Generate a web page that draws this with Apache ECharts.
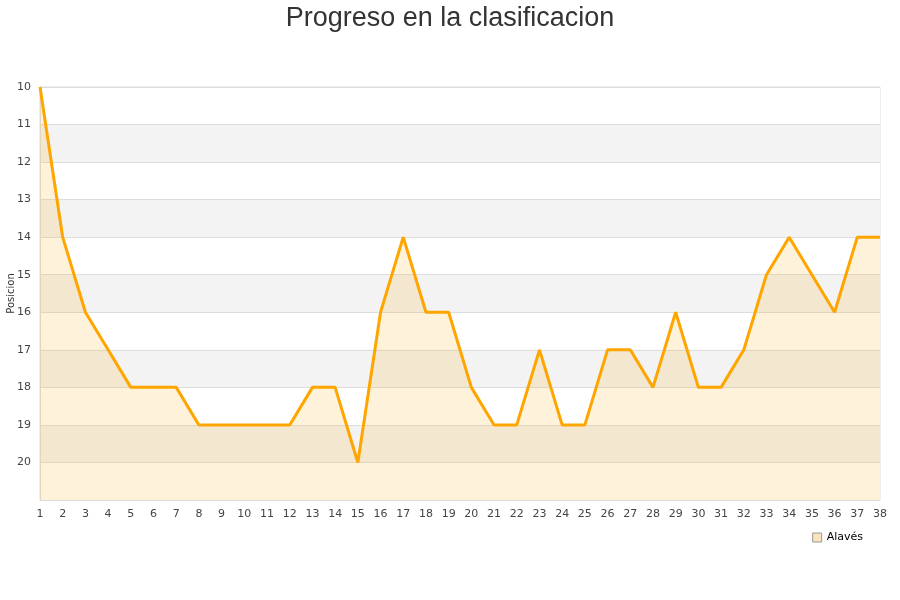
<!DOCTYPE html>
<html><head><meta charset="utf-8">
<script src="https://cdn.jsdelivr.net/npm/echarts@6/dist/echarts.min.js"></script>
<style>html,body{margin:0;padding:0;background:#fff}#c{width:900px;height:600px}</style>
</head><body><div id="c"></div>
<script>
const jornadas = ['1','2','3','4','5','6','7','8','9','10','11','12','13','14','15','16','17','18','19','20','21','22','23','24','25','26','27','28','29','30','31','32','33','34','35','36','37','38'];
const posiciones = [10,14,16,17,18,18,18,19,19,19,19,19,18,18,20,16,14,16,16,18,19,19,17,19,19,17,17,18,16,18,18,17,15,14,15,16,14,14];
const teamName = 'Alavés';
const chart = echarts.init(document.getElementById('c'));
chart.setOption({
  animation:false,
  title:{text:'Progreso en la clasificacion',left:'center',top:0,textStyle:{fontFamily:'Liberation Sans',fontSize:27,fontWeight:'normal',color:'#333'}},
  grid:{left:40,right:20,top:87,bottom:100,show:true,borderColor:'#ddd',borderWidth:1,containLabel:false,outerBoundsMode:'none'},
  legend:{data:[teamName],right:33,top:530,icon:'rect',itemWidth:9,itemHeight:9,backgroundColor:'#fff',padding:[2,4,2,4],
    textStyle:{fontFamily:'DejaVu Sans',fontSize:11,color:'#000'},
    itemStyle:{color:'#fbe4bd',borderColor:'#999',borderWidth:1}},
  xAxis:{type:'category',data:jornadas,boundaryGap:false,
    axisLine:{lineStyle:{color:'#ddd'}},axisTick:{show:false},
    axisLabel:{fontFamily:'DejaVu Sans',fontSize:11,color:'#444',margin:9,interval:0},
    splitLine:{show:false}},
  yAxis:{type:'value',inverse:true,min:10,max:21,interval:1,name:'Posicion',nameLocation:'middle',nameGap:24,nameMoveOverlap:false,
    nameTextStyle:{fontFamily:'DejaVu Sans',fontSize:10,color:'#333'},
    axisLine:{show:true,lineStyle:{color:'#ddd'}},axisTick:{show:false},
    axisLabel:{fontFamily:'DejaVu Sans',fontSize:11,color:'#444',margin:9,formatter:v=>v===21?'':String(v)},
    splitLine:{lineStyle:{color:'#ddd'}},
    splitArea:{show:true,areaStyle:{color:['#ffffff','#f3f3f3']}}},
  series:[{name:teamName,type:'line',data:posiciones,symbol:'none',
    lineStyle:{color:'#ffa500',width:3},itemStyle:{color:'#ffa500'},
    areaStyle:{color:'rgba(255,172,16,0.22)',origin:'end'}}]
});
</script></body></html>
